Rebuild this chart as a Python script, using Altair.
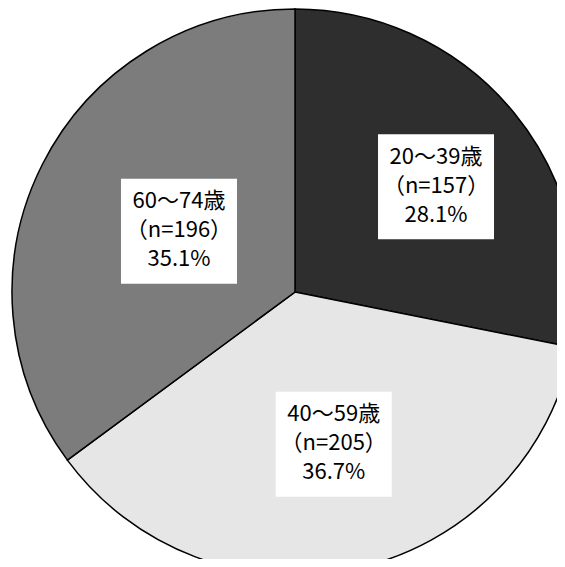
import altair as alt
import pandas as pd
import math

# data
groups = ["20～39歳", "40～59歳", "60～74歳"]
counts = [157, 205, 196]
pcts = ["28.1%", "36.7%", "35.1%"]

# layout / style
fills = ["#2e2e2e", "#e6e6e6", "#7c7c7c"]
W, H = 549, 551
CX, CY, R = 287, 284, 283
label_r = [176, 157, 131]          # label distance from centre
label_shift = [2.6, -1.7, 0.9]     # label angle tweak (degrees)
box_w, box_h = 116, 105
line_h = 29

total = sum(counts)
rows = []
cum = 0
for i, (g, n, p) in enumerate(zip(groups, counts, pcts)):
    mid = (cum + n / 2) / total * 2 * math.pi + math.radians(label_shift[i])
    cum += n
    lx = CX + label_r[i] * math.sin(mid)
    ly = CY - label_r[i] * math.cos(mid)
    rows.append({"group": g, "n": n, "order": i,
                 "label": f"{g}\n（n={n}）\n{p}",
                 "lx": lx, "ly": ly})
df = pd.DataFrame(rows)

xs = alt.Scale(domain=[0, W], range=[0, W])
ys = alt.Scale(domain=[0, H], range=[0, H])

pie = alt.Chart(df).mark_arc(stroke="black", strokeWidth=1.5, radius=R).encode(
    theta=alt.Theta("n:Q", stack=True),
    order=alt.Order("order:Q"),
    color=alt.Color("group:N", scale=alt.Scale(domain=groups, range=fills), legend=None),
    x=alt.value(CX), y=alt.value(CY),
)

boxes = alt.Chart(df).transform_calculate(
    x1=f"datum.lx - {box_w/2}", x2=f"datum.lx + {box_w/2}",
    y1=f"datum.ly - {box_h/2}", y2=f"datum.ly + {box_h/2}",
).mark_rect(color="white").encode(
    x=alt.X("x1:Q", scale=xs, axis=None), x2="x2:Q",
    y=alt.Y("y1:Q", scale=ys, axis=None), y2="y2:Q",
)

texts = alt.Chart(df).mark_text(
    font="Noto Sans CJK JP", fontSize=22, color="black", lineBreak="\n",
    lineHeight=line_h, baseline="middle", align="center", dy=-line_h - 1,
).encode(
    x=alt.X("lx:Q", scale=xs, axis=None),
    y=alt.Y("ly:Q", scale=ys, axis=None),
    text="label:N",
)

chart = alt.layer(pie, boxes, texts).properties(
    width=W, height=H, padding=0, autosize=alt.AutoSizeParams(type="none")
).configure_view(stroke=None)

chart.save("out.html", embed_options={"renderer": "svg", "actions": False})
